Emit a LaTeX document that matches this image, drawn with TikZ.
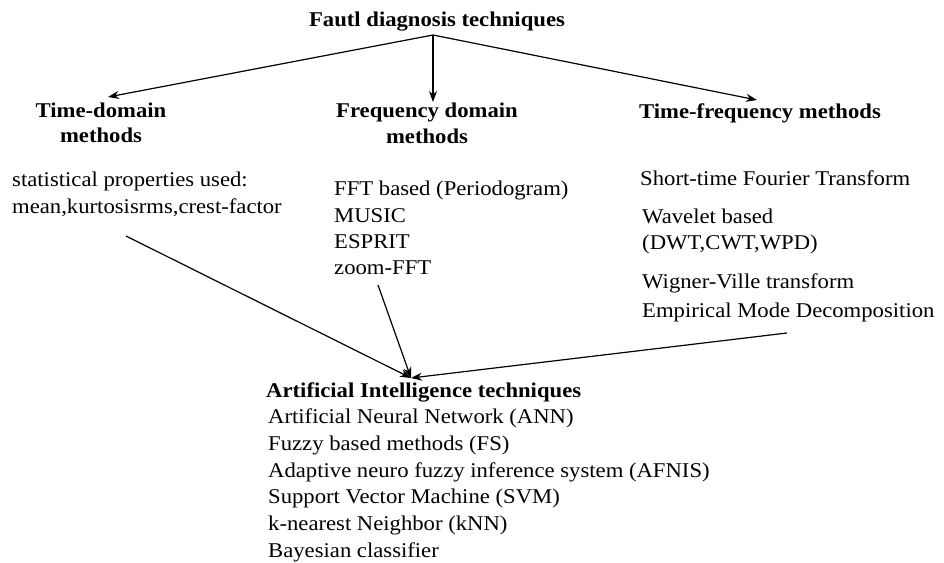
\documentclass[tikz,border=0pt]{standalone}
\usepackage{fontspec}
\setmainfont[FakeStretch=1.08]{Liberation Serif}
\usetikzlibrary{arrows.meta}
\tikzset{
  txt/.style={font=\fontsize{21}{26}\selectfont, inner sep=0pt, anchor=base west},
  boldtxt/.style={font=\fontsize{21}{26}\selectfont\bfseries, inner sep=0pt, anchor=base west},
  hdr/.style={font=\fontsize{21}{26}\selectfont\bfseries, inner sep=0pt, anchor=base},
  arr/.style={-{Stealth[length=11pt,width=8pt]}, line width=1.2pt},
}
\begin{document}
\begin{tikzpicture}[x=1pt,y=-1pt]
\useasboundingbox (0,0) rectangle (944,562);
% title and headers
\node[hdr] (title) at (437,26) {Fautl diagnosis techniques};
\node[hdr] (td1) at (101,117) {Time-domain};
\node[hdr] (td2) at (101,142) {methods};
\node[hdr] (fd1) at (427,117) {Frequency domain};
\node[hdr] (fd2) at (427,143) {methods};
\node[hdr] (tf1) at (760,118) {Time-frequency methods};
% time domain text
\node[txt] (s1) at (12,186) {statistical properties used:};
\node[txt] (s2) at (12,213) {mean,kurtosisrms,crest-factor};
% frequency domain list
\node[txt] (f1) at (334,195) {FFT based (Periodogram)};
\node[txt] (f2) at (334,222) {MUSIC};
\node[txt] (f3) at (334,248) {ESPRIT};
\node[txt] (f4) at (334,274) {zoom-FFT};
% time-frequency list
\node[txt] (w1) at (640,185) {Short-time Fourier Transform};
\node[txt] (w2) at (642,223) {Wavelet based};
\node[txt] (w3) at (642,249) {(DWT,CWT,WPD)};
\node[txt] (w4) at (642,288) {Wigner-Ville transform};
\node[txt] (w5) at (642,317) {Empirical Mode Decomposition};
% AI
\node[boldtxt] (ai) at (266,397) {Artificial Intelligence techniques};
\node[txt] (a1) at (268,423) {Artificial Neural Network (ANN)};
\node[txt] (a2) at (268,450) {Fuzzy based methods (FS)};
\node[txt] (a3) at (268,477) {Adaptive neuro fuzzy inference system (AFNIS)};
\node[txt] (a4) at (268,503) {Support Vector Machine (SVM)};
\node[txt] (a5) at (268,530) {k-nearest Neighbor (kNN)};
\node[txt] (a6) at (268,557) {Bayesian classifier};
% connector ends
\coordinate (src) at (433,35);
\coordinate (tdTip) at (108,97);
\coordinate (fdTip) at (433,102);
\coordinate (tfTip) at (757,100);
\coordinate (sFrom) at (126,236);
\coordinate (fFrom) at (378,285);
\coordinate (wFrom) at (787,333);
\coordinate (aiTip) at (411,378);
\draw[arr] (src) -- (tdTip);
\draw[arr] (src) -- (fdTip);
\draw[arr] (src) -- (tfTip);
\draw[arr] (sFrom) -- (aiTip);
\draw[arr] (fFrom) -- (aiTip);
\draw[arr] (wFrom) -- (aiTip);
\end{tikzpicture}
\end{document}
